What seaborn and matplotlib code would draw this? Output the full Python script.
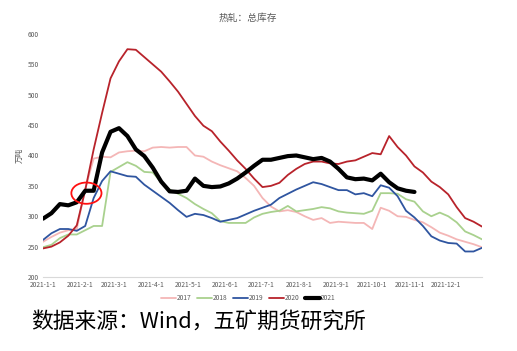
import matplotlib
matplotlib.use("Agg")
import matplotlib.pyplot as plt
import matplotlib.dates as mdates
from matplotlib.patches import Ellipse
import seaborn as sns
import pandas as pd
import numpy as np

title = "热轧：总库存"
ylabel = "万吨"
source = "数据来源：Wind，五矿期货研究所"
month_labels = ["2021-1-1", "2021-2-1", "2021-3-1", "2021-4-1", "2021-5-1", "2021-6-1",
                "2021-7-1", "2021-8-1", "2021-9-1", "2021-10-1", "2021-11-1", "2021-12-1"]
series_names = ["2017", "2018", "2019", "2020", "2021"]

v2017 = [258, 266, 273, 277, 279, 345, 395, 398, 397, 405, 407, 408, 407, 413, 414, 413, 414, 414,
         400, 398, 390, 384, 379, 374, 363, 350, 330, 316, 308, 310, 307, 300, 294, 297, 289, 291,
         290, 289, 289, 279, 314, 309, 300, 299, 294, 290, 282, 273, 268, 262, 258, 254, 249]
v2018 = [249, 253, 264, 270, 270, 277, 284, 284, 373, 381, 389, 383, 373, 372, 356, 344, 337, 330,
         320, 312, 305, 292, 289, 289, 289, 298, 304, 307, 309, 317, 308, 310, 312, 315, 313, 308,
         306, 305, 304, 309, 338, 338, 337, 328, 324, 308, 300, 306, 300, 290, 275, 269, 262]
v2019 = [261, 272, 279, 279, 276, 284, 330, 358, 374, 370, 366, 365, 352, 342, 332, 322, 310, 299,
         304, 302, 297, 291, 294, 297, 303, 309, 314, 319, 330, 337, 344, 350, 356, 353, 348, 343,
         343, 336, 338, 333, 351, 347, 333, 309, 298, 284, 267, 260, 256, 255, 242, 242, 248]
v2020 = [247, 250, 257, 268, 285, 343, 410, 470, 527, 555, 575, 574, 562, 550, 538, 522, 505, 485,
         465, 449, 440, 423, 408, 392, 378, 362, 348, 350, 355, 368, 378, 386, 390, 390, 387, 386,
         390, 392, 398, 404, 402, 432, 414, 400, 382, 372, 357, 348, 336, 315, 297, 291, 283]
v2021 = [296, 305, 320, 318, 323, 342, 342, 405, 439, 445, 432, 410, 399, 380, 357, 341, 340, 342,
         362, 350, 348, 349, 354, 362, 372, 383, 393, 393, 396, 399, 400, 397, 394, 396, 390, 378,
         364, 361, 362, 359, 370, 356, 346, 342, 340]

colors = {"2017": "#F4B6B6", "2018": "#A9D18E", "2019": "#2F55A0",
          "2020": "#B8232B", "2021": "#000000"}
widths = {"2017": 1.3, "2018": 1.3, "2019": 1.3, "2020": 1.3, "2021": 3.0}

start = pd.Timestamp("2021-01-01")
frames = []
for name, vals in zip(series_names, [v2017, v2018, v2019, v2020, v2021]):
    dates = [start + pd.Timedelta(days=7 * i) for i in range(len(vals))]
    frames.append(pd.DataFrame({"date": dates, "value": vals, "year": name}))
df = pd.concat(frames, ignore_index=True)

sns.set_style("white")
plt.rcParams["font.family"] = ["Noto Sans CJK SC", "DejaVu Sans"]

fig = plt.figure(figsize=(5.17, 3.51), dpi=100)
ax = fig.add_axes([43 / 517, 1 - 277 / 351, (482 - 43) / 517, (277 - 34) / 351])

for name in series_names:
    sub = df[df["year"] == name]
    sns.lineplot(data=sub, x="date", y="value", ax=ax, color=colors[name],
                 linewidth=widths[name], label=name, zorder=3 if name == "2021" else 2)

ax.set_ylim(200, 600)
ax.set_yticks(range(200, 601, 50))
ax.set_xlim(pd.Timestamp("2021-01-01"), pd.Timestamp("2021-12-31"))
month_ticks = [pd.Timestamp(f"2021-{m}-01") for m in range(1, 13)]
ax.set_xticks(month_ticks)
ax.set_xticklabels(month_labels)
ax.tick_params(axis="both", length=0, labelsize=4.8, colors="#595959", pad=3)
ax.set_xlabel("")
ax.set_ylabel(ylabel, fontsize=5.5, color="#595959", labelpad=3)
for s in ["top", "right", "left"]:
    ax.spines[s].set_visible(False)
ax.spines["bottom"].set_color("#D9D9D9")
ax.spines["bottom"].set_linewidth(0.8)
ax.grid(False)

# red circle annotation
cx = mdates.date2num(pd.Timestamp("2021-02-06"))
ell = Ellipse((cx, 338), width=25, height=35, fill=False, edgecolor="#FF1010",
              linewidth=1.3, zorder=4)
ax.add_patch(ell)

fig.text(248 / 517, 1 - 18 / 351, title, ha="center", va="center", fontsize=7, color="#595959")

leg = ax.legend(loc="center", bbox_to_anchor=(248 / 517, 1 - 298 / 351),
                bbox_transform=fig.transFigure, ncol=5, frameon=False, fontsize=4.8,
                handlelength=2.2, handletextpad=0.1, columnspacing=0.9)
for t in leg.get_texts():
    t.set_color("#595959")

fig.text(31 / 517, 1 - 322 / 351, source, ha="left", va="center", fontsize=15.7, color="#000000")

fig.savefig("out.png", dpi=100)
